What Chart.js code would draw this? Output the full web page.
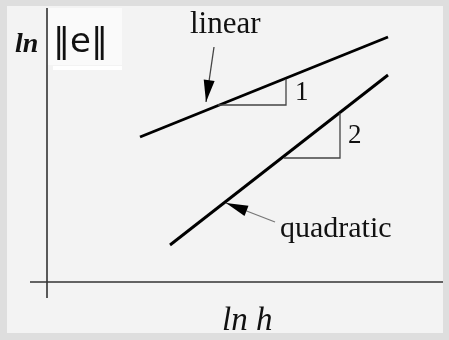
<!doctype html>
<html lang="en">
  <head>
    <meta charset="utf-8">
    <title>Error vs step size</title>
    <script src="https://cdn.jsdelivr.net/npm/chart.js"></script>
    <style>
      body { margin: 0; background: #dedede; }
      canvas { display: block; }
    </style>
  </head>
  <body>
    <canvas id="convChart" width="449" height="340"></canvas>

    <script>
      // log-log sketch: ln h along x, ln ||e|| along y
      var linearH = [2.325, 8.525];
      var linearErr = [3.625, 6.125];
      var quadH = [3.075, 8.525];
      var quadErr = [0.925, 5.175];

      // slope triangles (run then rise)
      var tri1H = [4.275, 5.975, 5.975];
      var tri1Err = [4.425, 4.425, 5.075];
      var tri2H = [5.925, 7.325, 7.325];
      var tri2Err = [3.1, 3.1, 4.225];

      // axis extents
      var axisH = [-0.425, 9.9];
      var axisErr = [6.85, -0.4];

      // label arrows, tail -> tip
      var linArrowH = [4.175, 3.975];
      var linArrowErr = [5.875, 4.5];
      var quadArrowH = [5.7, 4.475];
      var quadArrowErr = [1.5, 1.975];

      function pts(xs, ys) {
        var out = [];
        for (var i = 0; i < xs.length; i++) out.push({ x: xs[i], y: ys[i] });
        return out;
      }

      function line(xs, ys, color, width, extra) {
        var ds = {
          data: pts(xs, ys),
          showLine: true,
          borderColor: color,
          borderWidth: width,
          pointRadius: 0,
          fill: false,
          tension: 0
        };
        for (var k in extra || {}) ds[k] = extra[k];
        return ds;
      }

      // text placed in data units
      var labels = [
        { text: "linear", x: 3.575, y: 6.225, font: "31px 'Liberation Serif'" },
        { text: "quadratic", x: 5.825, y: 1.125, font: "30px 'Liberation Serif'" },
        { text: "1", x: 6.2, y: 4.55, font: "27px 'Liberation Serif'" },
        { text: "2", x: 7.525, y: 3.475, font: "27px 'Liberation Serif'" },
        { text: "ln h", x: 4.375, y: -1.2, font: "italic 33px 'Liberation Serif'" },
        { text: "ln", x: -0.8, y: 5.75, font: "italic bold 28px 'Liberation Serif'" },
        { text: "\u2016e\u2016", x: 0.15, y: 5.75, font: "34px 'DejaVu Sans'" }
      ];

      var paper = {
        id: "paper",
        beforeDraw: function (chart) {
          var c = chart.ctx;
          c.save();
          c.fillStyle = "#dedede";
          c.fillRect(0, 0, chart.width, chart.height);
          c.fillStyle = "#f3f3f3";
          c.fillRect(7, 6, 436, 327);
          c.fillStyle = "#fafafa";
          c.fillRect(48, 8, 74, 57);
          c.fillStyle = "#ffffff";
          c.fillRect(53, 66, 69, 4);
          c.restore();
        }
      };

      var marks = {
        id: "marks",
        afterDatasetsDraw: function (chart) {
          var c = chart.ctx;
          var sx = chart.scales.x, sy = chart.scales.y;
          c.save();
          // arrowheads at the tip of each arrow dataset
          chart.data.datasets.forEach(function (ds) {
            if (!ds.arrow) return;
            var n = ds.data.length;
            var x0 = sx.getPixelForValue(ds.data[n - 2].x), y0 = sy.getPixelForValue(ds.data[n - 2].y);
            var x1 = sx.getPixelForValue(ds.data[n - 1].x), y1 = sy.getPixelForValue(ds.data[n - 1].y);
            var a = Math.atan2(y1 - y0, x1 - x0);
            var len = 22, half = 5.5;
            c.fillStyle = "#000";
            c.beginPath();
            c.moveTo(x1, y1);
            c.lineTo(x1 - len * Math.cos(a) + half * Math.sin(a), y1 - len * Math.sin(a) - half * Math.cos(a));
            c.lineTo(x1 - len * Math.cos(a) - half * Math.sin(a), y1 - len * Math.sin(a) + half * Math.cos(a));
            c.closePath();
            c.fill();
          });
          c.fillStyle = "#111";
          c.textAlign = "left";
          c.textBaseline = "alphabetic";
          labels.forEach(function (l) {
            c.font = l.font;
            c.fillText(l.text, sx.getPixelForValue(l.x), sy.getPixelForValue(l.y));
          });
          c.restore();
        }
      };

      document.addEventListener("DOMContentLoaded", function () {
        var ctx = document.getElementById("convChart").getContext("2d");
        new Chart(ctx, {
          type: "scatter",
          data: {
            datasets: [
              line(axisH, [0, 0], "#333", 1.6),
              line([0, 0], axisErr, "#333", 1.6),
              line(tri1H, tri1Err, "#444", 1.3),
              line(tri2H, tri2Err, "#444", 1.3),
              line(linearH, linearErr, "#000", 2.9),
              line(quadH, quadErr, "#000", 2.9),
              line(linArrowH, linArrowErr, "#444", 1.3, { arrow: true }),
              line(quadArrowH, quadArrowErr, "#777", 1.3, { arrow: true })
            ]
          },
          options: {
            responsive: false,
            animation: false,
            layout: { padding: 0 },
            scales: {
              x: { type: "linear", display: false, min: -1.175, max: 10.05 },
              y: { type: "linear", display: false, min: -1.45, max: 7.05 }
            },
            plugins: {
              legend: { display: false },
              tooltip: { enabled: false }
            }
          },
          plugins: [paper, marks]
        });
      });
    </script>
  </body>
</html>
